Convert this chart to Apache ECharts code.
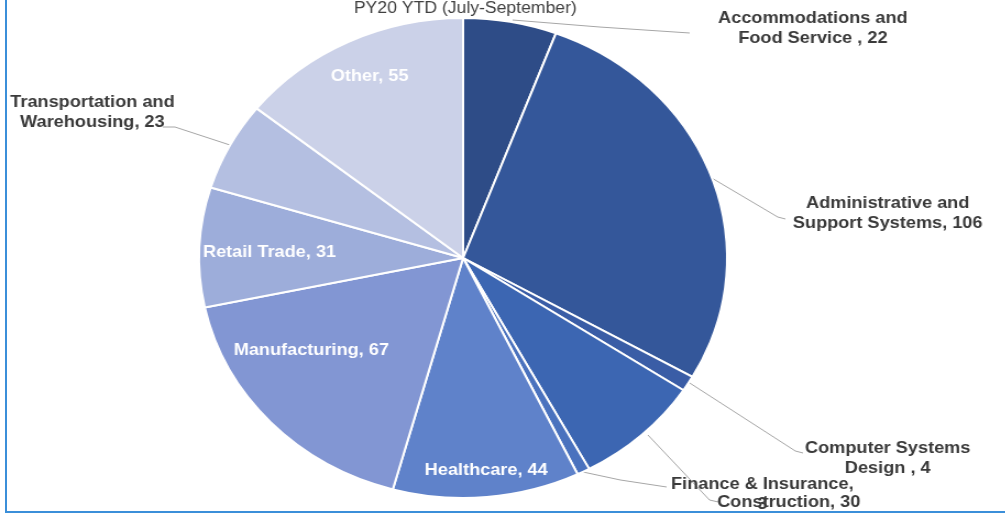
<!doctype html>
<html>
<head>
    <title>PY20 YTD</title>
    <script src="https://cdnjs.cloudflare.com/ajax/libs/echarts/6.0.0/echarts.min.js"></script>
</head>
<style>
    html, body {
        margin: 0;
        width: 100%;
        height: 100%;
        background: #ffffff;
        overflow: hidden;
    }
    #frame {
        position: absolute;
        left: 5px;
        top: 0;
        width: 1000px;
        height: 511px;
        border-left: 2px solid #3b8fd9;
        border-bottom: 2px solid #3b8fd9;
    }
    #EChartParent {
        position: absolute;
        left: 0;
        top: 0;
        width: 914px;
        height: 514px;
        transform: scaleX(1.1);
        transform-origin: 0 0;
    }
</style>
<body>
<div id="frame"></div>
<div id="EChartParent"></div>
<script>
  // values, clockwise from 12 o'clock
  var categories = [
    'Accommodations and\nFood Service ',
    'Administrative and\nSupport Systems',
    'Computer Systems\nDesign ',
    'Construction',
    'Finance & Insurance',
    'Healthcare',
    'Manufacturing',
    'Retail Trade',
    'Transportation and\nWarehousing',
    'Other'
  ];
  var counts = [22, 106, 4, 30, 3, 44, 67, 31, 23, 55];

  var colors = ['#2e4c87', '#34579a', '#3a5da6', '#3c66b2', '#4a72be',
                '#5f82ca', '#8296d3', '#9dadda', '#b4bfe1', '#cbd1e8'];
  var inside = [false, false, false, false, false, true, true, true, false, true];

  // label anchors (chart space, before the 1.1 horizontal stretch)
  var labelPos = [
    [739, 28], [807, 213], [807, 458], [717, 502], [693, 494],
    [442, 470], [283, 350], [245, 252], [84, 112], [336, 76]
  ];
  var linePts = [
    [[466, 20], [545, 27], [627, 33]],
    [[647, 178], [707, 217], [714, 219]],
    [[627, 383], [723, 451], [730, 453]],
    [[589, 435], [645, 500], [653, 502]],
    [[530, 472], [564, 480], [606, 487]],
    null, null, null,
    [[209, 145], [159, 127], [148, 127]],
    null
  ];

  var chart = document.getElementById('EChartParent');
  var myChart = echarts.init(chart);

  var data = categories.map(function (c, i) {
    return {
      name: c,
      value: counts[i],
      itemStyle: { color: colors[i] },
      label: { color: inside[i] ? '#ffffff' : '#3a3a3a' },
      labelLine: { show: !inside[i] }
    };
  });

  var option = {
    animation: false,
    title: {
      text: 'PY20 YTD (July-September)',
      left: 418,
      top: -10,
      textAlign: 'center',
      textStyle: {
        fontFamily: 'Liberation Sans, Arial, sans-serif',
        fontWeight: 'normal',
        fontSize: 16,
        color: '#404040'
      }
    },
    series: [
      {
        type: 'pie',
        center: [421, 258],
        radius: [0, 240],
        startAngle: 90,
        clockwise: true,
        avoidLabelOverlap: false,
        data: data,
        itemStyle: {
          borderColor: '#ffffff',
          borderWidth: 2
        },
        label: {
          position: 'outside',
          fontFamily: 'Liberation Sans, Arial, sans-serif',
          fontWeight: 'bold',
          fontSize: 16.5,
          lineHeight: 20,
          align: 'center',
          formatter: function (p) {
            var sep = p.name === 'Finance & Insurance' ? ',\n' : ', ';
            return p.name + sep + p.value;
          }
        },
        labelLine: {
          lineStyle: { color: '#a6a6a6', width: 1 }
        },
        labelLayout: function (params) {
          var i = params.dataIndex;
          var out = {
            x: labelPos[i][0],
            y: labelPos[i][1],
            align: 'center',
            verticalAlign: 'middle'
          };
          if (linePts[i]) {
            out.labelLinePoints = linePts[i];
          }
          return out;
        }
      }
    ]
  };

  myChart.setOption(option);
</script>
</body>
</html>
